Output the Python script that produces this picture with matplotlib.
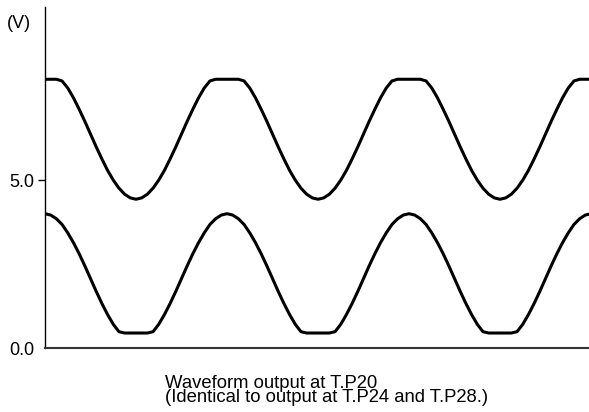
import numpy as np
import matplotlib
matplotlib.use("Agg")
import matplotlib.pyplot as plt

plt.rcParams["font.family"] = ["Liberation Sans", "DejaVu Sans"]

# phase in degrees, 3 full cycles
phase = np.arange(0, 1080 + 0.1, 11.25)

# upper waveform (V): flat tops, rounded bottoms
upper_v = [
    8.0, 8.0, 8.0, 7.95, 7.74, 7.45, 7.11, 6.75, 6.37, 5.99, 5.63, 5.29, 5.00, 4.76, 4.58, 4.47,
    4.43, 4.47, 4.58, 4.76, 5.00, 5.29, 5.63, 5.99, 6.37, 6.75, 7.11, 7.45, 7.74, 7.95, 8.0, 8.0,
    8.0, 8.0, 8.0, 7.95, 7.74, 7.45, 7.11, 6.75, 6.37, 5.99, 5.63, 5.29, 5.00, 4.76, 4.58, 4.47,
    4.43, 4.47, 4.58, 4.76, 5.00, 5.29, 5.63, 5.99, 6.37, 6.75, 7.11, 7.45, 7.74, 7.95, 8.0, 8.0,
    8.0, 8.0, 8.0, 7.95, 7.74, 7.45, 7.11, 6.75, 6.37, 5.99, 5.63, 5.29, 5.00, 4.76, 4.58, 4.47,
    4.43, 4.47, 4.58, 4.76, 5.00, 5.29, 5.63, 5.99, 6.37, 6.75, 7.11, 7.45, 7.74, 7.95, 8.0, 8.0,
    8.0,
]

# lower waveform (V): rounded tops, flat bottoms
lower_v = [
    4.00, 3.96, 3.85, 3.68, 3.43, 3.14, 2.81, 2.45, 2.07, 1.69, 1.33, 1.00, 0.71, 0.49, 0.45, 0.45,
    0.45, 0.45, 0.45, 0.49, 0.71, 1.00, 1.33, 1.69, 2.07, 2.45, 2.81, 3.14, 3.43, 3.68, 3.85, 3.96,
    4.00, 3.96, 3.85, 3.68, 3.43, 3.14, 2.81, 2.45, 2.07, 1.69, 1.33, 1.00, 0.71, 0.49, 0.45, 0.45,
    0.45, 0.45, 0.45, 0.49, 0.71, 1.00, 1.33, 1.69, 2.07, 2.45, 2.81, 3.14, 3.43, 3.68, 3.85, 3.96,
    4.00, 3.96, 3.85, 3.68, 3.43, 3.14, 2.81, 2.45, 2.07, 1.69, 1.33, 1.00, 0.71, 0.49, 0.45, 0.45,
    0.45, 0.45, 0.45, 0.49, 0.71, 1.00, 1.33, 1.69, 2.07, 2.45, 2.81, 3.14, 3.43, 3.68, 3.85, 3.96,
    4.00,
]

ytick_vals = [0.0, 5.0]
ytick_labels = ["0.0", "5.0"]
caption = "Waveform output at T.P20\n(Identical to output at T.P24 and T.P28.)"

fig = plt.figure(figsize=(5.89, 4.12), dpi=100)
ax = fig.add_axes([0.0764, 0.155, 0.9236, 0.828])

ax.plot(phase, upper_v, color="black", lw=2.2, solid_capstyle="round")
ax.plot(phase, lower_v, color="black", lw=2.2, solid_capstyle="round")

ax.set_xlim(0, 1076)
ax.set_ylim(0, 10.15)

for side in ["top", "right"]:
    ax.spines[side].set_visible(False)
ax.spines["left"].set_linewidth(1.0)
ax.spines["bottom"].set_linewidth(1.5)
ax.spines["bottom"].set_color("#333333")

ax.set_xticks([])
ax.set_yticks(ytick_vals)
ax.set_yticklabels(ytick_labels, fontsize=13)
ax.tick_params(axis="y", length=5, width=1, pad=3)
ax.yaxis.get_major_ticks()[0].tick1line.set_visible(False)

fig.text(7 / 589, 1 - 24 / 412, "(V)", fontsize=13, ha="left", va="center")
fig.text(165 / 589, 1 - 375 / 412, caption, fontsize=13.3, ha="left", va="top",
         linespacing=0.8)

fig.savefig("out.png", dpi=100)
